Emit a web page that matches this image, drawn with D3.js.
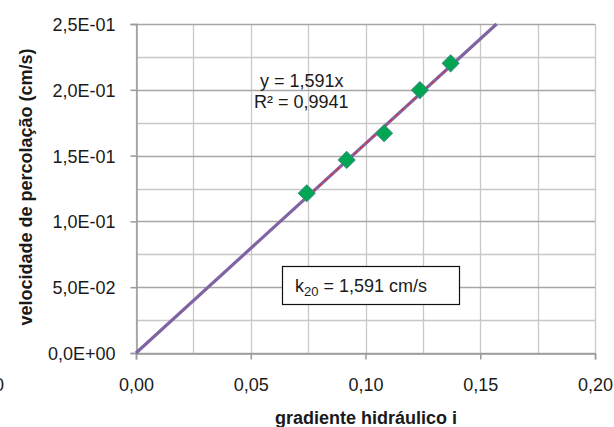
<!DOCTYPE html>
<html><head><meta charset="utf-8">
<script src="https://cdn.jsdelivr.net/npm/d3@7"></script>
<style>
body{margin:0;background:#fff;}
text{font-family:"Liberation Sans",Arial,sans-serif;}
</style></head>
<body><svg id="c" width="614" height="427"></svg>
<script>
const xData = [0.0744, 0.0918, 0.1081, 0.1237, 0.1371];
const yData = [0.1214, 0.1467, 0.1670, 0.1998, 0.2201];
const slope = 1.591;
const xTicks = [0, 0.05, 0.10, 0.15, 0.20];
const yTicks = [0, 0.05, 0.10, 0.15, 0.20, 0.25];
const xTickLabels = ["0,00", "0,05", "0,10", "0,15", "0,20"];
const yTickLabels = ["0,0E+00", "5,0E-02", "1,0E-01", "1,5E-01", "2,0E-01", "2,5E-01"];
const xMinor = [0.025, 0.075, 0.125, 0.175];
const yMinor = [0.025, 0.075, 0.125, 0.175, 0.225];

const FS = 18;
const svg = d3.select("#c");
const L = 136, R = 595, T = 24, B = 353;
const x = d3.scaleLinear().domain([0, 0.2]).range([L, R]);
const y = d3.scaleLinear().domain([0, 0.25]).range([B, T]);

// gridlines
const g = svg.append("g");
g.selectAll(".vx").data(xTicks.concat(xMinor)).enter().append("line")
  .attr("x1", d => Math.round(x(d)) + 0.5).attr("x2", d => Math.round(x(d)) + 0.5)
  .attr("y1", T).attr("y2", B).attr("stroke", "#c8c8c8").attr("stroke-width", 1.3);
g.selectAll(".hm").data(yMinor).enter().append("line")
  .attr("x1", L).attr("x2", R)
  .attr("y1", d => Math.round(y(d)) + 0.5).attr("y2", d => Math.round(y(d)) + 0.5)
  .attr("stroke", "#c8c8c8").attr("stroke-width", 1.3);
g.selectAll(".hM").data(yTicks).enter().append("line")
  .attr("x1", L).attr("x2", R)
  .attr("y1", d => Math.round(y(d)) + 0.5).attr("y2", d => Math.round(y(d)) + 0.5)
  .attr("stroke", "#a6a6a6").attr("stroke-width", 1.3);

// axes
const yAxis = d3.axisLeft(y).tickValues(yTicks).tickSize(6).tickPadding(15)
  .tickFormat((d, i) => yTickLabels[i]);
const ya = svg.append("g").attr("transform", `translate(${L + 0.5},0)`).call(yAxis);
const xAxis = d3.axisBottom(x).tickValues(xTicks).tickSize(6).tickPadding(19)
  .tickFormat((d, i) => xTickLabels[i]);
const xa = svg.append("g").attr("transform", `translate(0,${B + 0.5})`).call(xAxis);
[ya, xa].forEach(a => {
  a.select(".domain").attr("stroke", "#9a9a9a").attr("stroke-width", 1.5);
  a.selectAll(".tick line").attr("stroke", "#9a9a9a").attr("stroke-width", 1.5);
  a.selectAll(".tick text").attr("font-size", FS).attr("fill", "#1a1a1a")
    .style("font-family", '"Liberation Sans",Arial,sans-serif');
});
ya.selectAll(".tick text").attr("dy", "0.36em");

// cut-off label at far left (as in the reference)
svg.append("text").attr("x", 4).attr("y", 391).attr("text-anchor", "end")
  .attr("font-size", FS).attr("fill", "#1a1a1a").text("0,20");

// trendline
const xEnd = 0.25 / slope;
svg.append("line").attr("x1", x(0)).attr("y1", y(0)).attr("x2", x(xEnd)).attr("y2", y(slope * xEnd))
  .attr("stroke", "#8064a2").attr("stroke-width", 3.2);
const xs = d3.extent(xData);
svg.append("line").attr("x1", x(xs[0])).attr("y1", y(slope * xs[0]))
  .attr("x2", x(xs[1])).attr("y2", y(slope * xs[1]))
  .attr("stroke", "#e0303a").attr("stroke-width", 1.3).attr("stroke-dasharray", "4,4");

// markers
svg.selectAll(".pt").data(xData).enter().append("path")
  .attr("d", d3.symbol().type(d3.symbolSquare).size(140))
  .attr("transform", (d, i) => `translate(${x(d)},${y(yData[i])}) rotate(45)`)
  .attr("fill", "#00a651").attr("stroke", "#2f8f78").attr("stroke-width", 1);

// equation
svg.append("text").attr("x", 260).attr("y", 87)
  .attr("font-size", FS).attr("fill", "#1a1a1a").text("y = 1,591x");
svg.append("text").attr("x", 254).attr("y", 108)
  .attr("font-size", FS).attr("fill", "#1a1a1a").text("R² = 0,9941");

// k20 box
svg.append("rect").attr("x", 282.5).attr("y", 266.5).attr("width", 177).attr("height", 38)
  .attr("fill", "#fff").attr("stroke", "#111").attr("stroke-width", 1.2);
const kt = svg.append("text").attr("x", 295).attr("y", 292).attr("font-size", FS).attr("fill", "#1a1a1a");
kt.append("tspan").text("k");
kt.append("tspan").attr("font-size", 13).attr("dy", 4).text("20");
kt.append("tspan").attr("dy", -4).text(" = 1,591 cm/s");

// axis titles
svg.append("text").attr("transform", "translate(32,187) rotate(-90)").attr("text-anchor", "middle")
  .attr("font-size", FS).attr("font-weight", "bold").attr("fill", "#1a1a1a")
  .text("velocidade de percolação  (cm/s)");
svg.append("text").attr("x", 366).attr("y", 424).attr("text-anchor", "middle")
  .attr("font-size", FS).attr("font-weight", "bold").attr("fill", "#1a1a1a")
  .text("gradiente hidráulico i");
</script></body></html>
